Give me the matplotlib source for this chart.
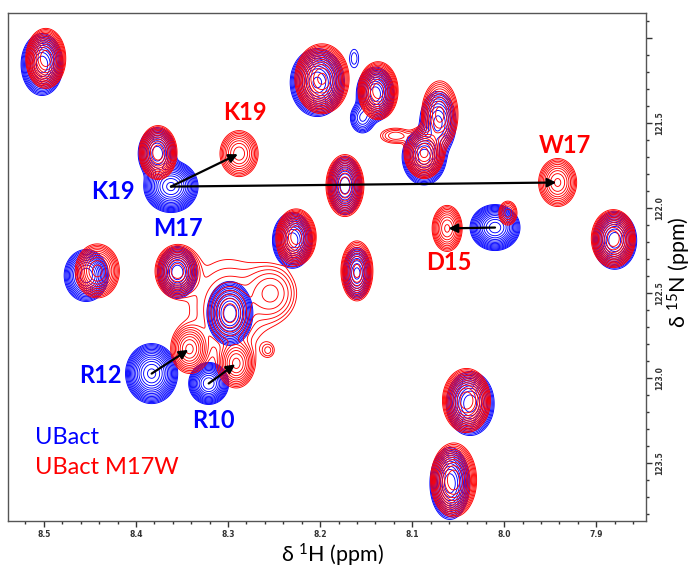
import numpy as np
import matplotlib
matplotlib.use("Agg")
import matplotlib.pyplot as plt
from matplotlib.ticker import MultipleLocator, FixedLocator

# ---------------------------------------------------------------------------
# Peak lists (1H ppm, 15N ppm, relative height, Gaussian widths in ppm)
# ---------------------------------------------------------------------------
ubact_h = [8.502, 8.377, 8.362, 8.173, 8.203, 8.140, 8.154, 8.163, 8.087, 8.072,
           8.010, 7.880, 8.230, 8.160, 8.454, 8.355, 8.298, 8.383, 8.321, 8.037, 8.059]
ubact_n = [121.156, 121.680, 121.874, 121.868, 121.262, 121.330, 121.470, 121.120,
           121.700, 121.500, 122.115, 122.190, 122.190, 122.385, 122.397, 122.379,
           122.620, 122.974, 123.032, 123.150, 123.620]
ubact_amp = [40, 30, 60, 30, 60, 40, 8, 1.6, 40, 15, 50, 40, 40, 20, 30, 30, 40, 60, 40, 40, 40]
ubact_wh = [0.0084, 0.0079, 0.0103, 0.0071, 0.0103, 0.0076, 0.0064, 0.0050, 0.0088, 0.0085,
            0.0097, 0.0088, 0.0080, 0.0062, 0.0092, 0.0083, 0.0092, 0.0099, 0.0080, 0.0096, 0.0080]
ubact_wn = [0.0671, 0.0586, 0.0534, 0.0654, 0.0699, 0.0585, 0.0433, 0.0550, 0.0606, 0.0800,
            0.0484, 0.0628, 0.0606, 0.0625, 0.0586, 0.0586, 0.0693, 0.0617, 0.0455, 0.0693, 0.0780]

m17w_h = [8.498, 8.376, 8.288, 7.942, 8.173, 8.198, 8.137, 8.087, 8.070, 8.118,
          8.062, 7.996, 7.8815, 8.226, 8.160, 8.442, 8.355, 8.298, 8.342, 8.291,
          8.252, 8.300, 8.2565, 8.041, 8.055]
m17w_n = [121.120, 121.674, 121.680, 121.850, 121.868, 121.240, 121.310, 121.674, 121.450,
          121.575, 122.120, 122.030, 122.180, 122.170, 122.370, 122.370, 122.370, 122.620,
          122.830, 122.915, 122.500, 122.580, 122.838, 123.132, 123.600]
m17w_amp = [40, 30, 12, 14, 30, 60, 40, 35, 15, 3, 14, 5, 40, 40, 20, 20, 30, 10,
            14, 14, 4, 2.2, 1.6, 40, 40]
m17w_wh = [0.0080, 0.0079, 0.0093, 0.0090, 0.0079, 0.0103, 0.0080, 0.0082, 0.0085, 0.0110,
           0.0071, 0.0055, 0.0088, 0.0080, 0.0071, 0.0098, 0.0092, 0.0101, 0.0085, 0.0082,
           0.0150, 0.0330, 0.0050, 0.0096, 0.0092]
m17w_wn = [0.0650, 0.0609, 0.0607, 0.0615, 0.0699, 0.0719, 0.0628, 0.0574, 0.0850, 0.0300,
           0.0589, 0.0393, 0.0628, 0.0606, 0.0721, 0.0649, 0.0586, 0.0768, 0.0600, 0.0600,
           0.0900, 0.2200, 0.0300, 0.0693, 0.0801]

# Chemical shift changes: (UBact peak index, M17W peak index)
shift_pairs = [(2, 2), (2, 3), (10, 10), (17, 18), (18, 19)]

x_ticks = [8.5, 8.4, 8.3, 8.2, 8.1, 8.0, 7.9]
y_ticks = [121.0, 121.5, 122.0, 122.5, 123.0, 123.5]
y_tick_labels = ["", "121.5", "122.0", "122.5", "123.0", "123.5"]

BLUE = "#0000ff"
RED = "#ff0000"

plt.rcParams["mathtext.fontset"] = "custom"
plt.rcParams["mathtext.rm"] = "Lato"
plt.rcParams["mathtext.default"] = "rm"


def spectrum(H, N, ph, pn, amp, wh, wn):
    z = np.zeros_like(H)
    for h0, n0, a, sh, sn in zip(ph, pn, amp, wh, wn):
        z += a * np.exp(-0.5 * (((H - h0) / sh) ** 2 + ((N - n0) / sn) ** 2))
    return z


W, Hh = 694, 569
fig = plt.figure(figsize=(W / 100, Hh / 100), dpi=100)
ax = fig.add_axes([8 / W, 1 - 521 / Hh, 638 / W, 508 / Hh])

xlim = (8.539, 7.846)
ylim = (123.841, 120.853)

hg = np.linspace(7.84, 8.545, 900)
ng = np.linspace(120.85, 123.85, 800)
HH, NN = np.meshgrid(hg, ng)
zb = spectrum(HH, NN, ubact_h, ubact_n, ubact_amp, ubact_wh, ubact_wn)
zr = spectrum(HH, NN, m17w_h, m17w_n, m17w_amp, m17w_wh, m17w_wn)

levels = 1.0 * 1.33 ** np.arange(16)
ax.contour(HH, NN, zb, levels=levels, colors=BLUE, linewidths=0.65)
ax.contour(HH, NN, zr, levels=levels, colors=RED, linewidths=0.65)

# arrows from the UBact peak to the corresponding M17W peak
for bi, ri in shift_pairs:
    ax.annotate("", xy=(m17w_h[ri], m17w_n[ri]), xytext=(ubact_h[bi], ubact_n[bi]),
                arrowprops=dict(arrowstyle="-|>", color="black", lw=1.6,
                                mutation_scale=13, shrinkA=0, shrinkB=1))

# residue labels
labels = [
    ("K19", RED, 8.2815, 121.438),
    ("K19", BLUE, 8.425, 121.900),
    ("M17", BLUE, 8.354, 122.12),
    ("W17", RED, 7.934, 121.632),
    ("D15", RED, 8.060, 122.320),
    ("R12", BLUE, 8.439, 122.985),
    ("R10", BLUE, 8.316, 123.25),
]
for txt, col, x, y in labels:
    ax.text(x, y, txt, color=col, fontsize=17, fontweight="bold", family="Lato",
            ha="center", va="center")

ax.text(0.042, 0.165, "UBact", color=BLUE, fontsize=17, family="Lato",
        transform=ax.transAxes, ha="left", va="center")
ax.text(0.042, 0.106, "UBact M17W", color=RED, fontsize=17, family="Lato",
        transform=ax.transAxes, ha="left", va="center")

ax.set_xlim(*xlim)
ax.set_ylim(*ylim)

ax.xaxis.set_major_locator(FixedLocator(x_ticks))
ax.xaxis.set_minor_locator(MultipleLocator(0.02))
ax.set_xticklabels([f"{v:.1f}" for v in x_ticks])
ax.yaxis.set_major_locator(FixedLocator(y_ticks))
ax.yaxis.set_minor_locator(MultipleLocator(0.1))
ax.set_yticklabels(y_tick_labels)

ax.yaxis.tick_right()
ax.tick_params(axis="x", which="both", bottom=True, top=False, direction="out",
               colors="#333333", labelsize=5.5, pad=2)
ax.tick_params(axis="y", which="both", right=True, left=False, direction="out",
               colors="#333333", labelsize=5.5, pad=2)
ax.tick_params(which="major", length=4.5, width=1.0)
ax.tick_params(which="minor", length=2.5, width=1.0)
for lab in ax.get_yticklabels():
    lab.set_rotation(90)
    lab.set_va("center")
for lab in ax.get_xticklabels() + ax.get_yticklabels():
    lab.set_fontweight("bold")

for sp in ax.spines.values():
    sp.set_color("#555555")
    sp.set_linewidth(1.0)

# axis titles
fig.text(333 / W, 1 - 555 / Hh, "δ $^{1}$H (ppm)", fontsize=15.5, family="Lato",
         ha="center", va="center")
fig.text(679 / W, 1 - 272 / Hh, "δ $^{15}$N (ppm)", fontsize=15.5, family="Lato",
         ha="center", va="center", rotation=90)

fig.savefig("out.png", dpi=100)
